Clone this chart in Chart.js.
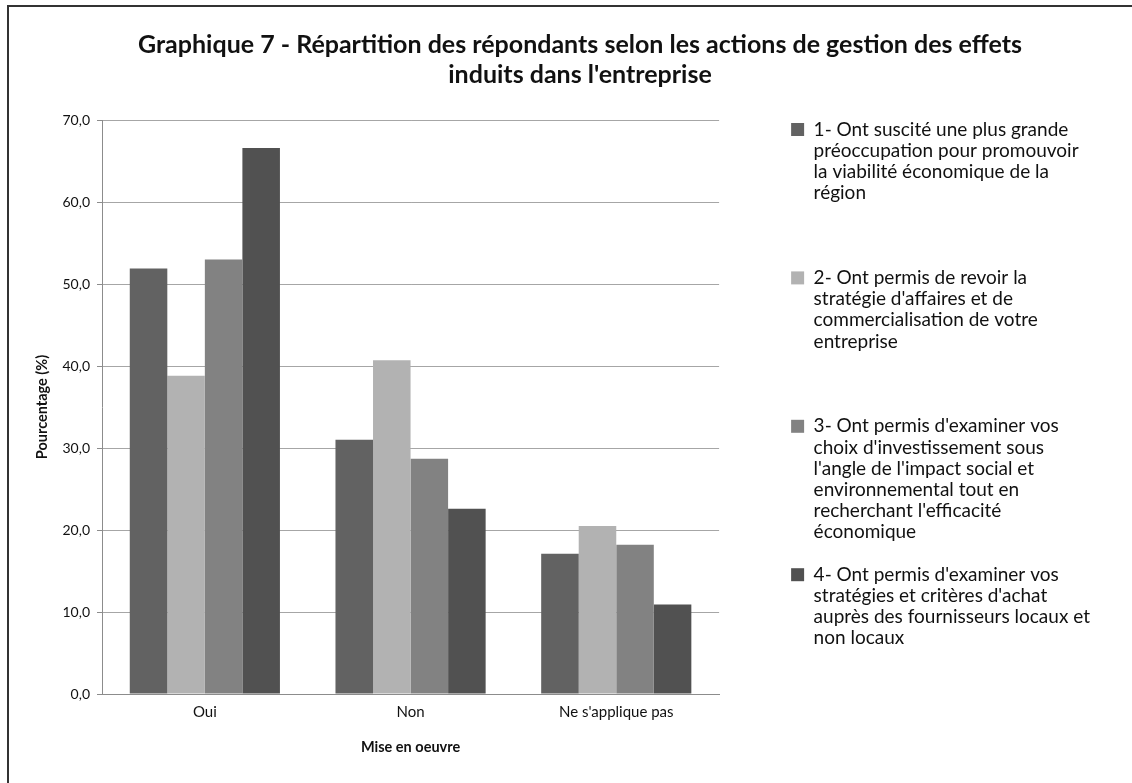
<!DOCTYPE html>
<html>
<head>
<meta charset="utf-8">
<script src="https://cdn.jsdelivr.net/npm/chart.js"></script>
<style>
  body { margin: 0; background: #fff; }
  #ramme { position: absolute; left: 7px; top: 5px; right: 0; bottom: 0; border-left: 2px solid #333; border-top: 2px solid #333; }
  #boks { position: absolute; left: 0; top: 0; width: 1132px; height: 783px; }
</style>
</head>
<body>
<div id="ramme"></div>
<div id="boks"><canvas id="myChart"></canvas></div>
<script>
// kategorier på x-aksen
const kategorier = ['Oui', 'Non', "Ne s'applique pas"];

// verdiene (%) for hver serie
const serie1 = [51.9, 31.0, 17.1];
const serie2 = [38.8, 40.7, 20.5];
const serie3 = [53.0, 28.7, 18.2];
const serie4 = [66.6, 22.6, 10.9];

// tekst i forklaringen, linje for linje
const tekst1 = ['1- Ont suscité une plus grande', 'préoccupation pour promouvoir', 'la viabilité économique de la', 'région'];
const tekst2 = ['2- Ont permis de revoir la', "stratégie d'affaires et de", 'commercialisation de votre', 'entreprise'];
const tekst3 = ["3- Ont permis d'examiner vos", "choix d'investissement sous", "l'angle de l'impact social et", 'environnemental tout en', "recherchant l'efficacité", 'économique'];
const tekst4 = ["4- Ont permis d'examiner vos", "stratégies et critères d'achat", 'auprès des fournisseurs locaux et', 'non locaux'];

const tittel = ['Graphique 7 - Répartition des répondants selon les actions de gestion des effets', "induits dans l'entreprise"];

const farger = ['#626262', '#b2b2b2', '#828282', '#515151'];
const tekster = [tekst1, tekst2, tekst3, tekst4];

const font = 'Lato';
const legendStr = 19;

// måler lengste linje i forklaringen så den havner på riktig sted
const maal = document.createElement('canvas').getContext('2d');
maal.font = legendStr + 'px ' + font;
const lengste = Math.max(...tekster.flat().map(t => maal.measureText(t).width));
const legendStart = 791;
const hoyreKant = Math.max(0, Math.round(1132 - legendStart - (13 + legendStr / 2 + lengste) - 10));
const venstreKant = 60;

const ctx = document.getElementById('myChart');

new Chart(ctx, {
  type: 'bar',
  data: {
    labels: kategorier,
    datasets: [serie1, serie2, serie3, serie4].map((verdier, i) => ({
      label: tekster[i].join(' '),
      data: verdier,
      backgroundColor: farger[i],
      borderWidth: 0,
      categoryPercentage: 0.73,
      barPercentage: 1
    }))
  },
  options: {
    responsive: true,
    maintainAspectRatio: false,
    animation: false,
    layout: { padding: { left: venstreKant, right: hoyreKant, top: 0, bottom: 0 } },
    plugins: {
      title: {
        display: true,
        text: tittel,
        color: '#111',
        font: { family: font, size: 25, weight: 'bold', lineHeight: 1.2 },
        padding: { top: 30, bottom: 30 }
      },
      legend: {
        position: 'right',
        align: 'start',
        fullSize: false,
        maxWidth: 420,
        labels: {
          boxWidth: 13,
          boxHeight: 13,
          padding: 0,
          color: '#111',
          font: { family: font, size: legendStr, lineHeight: 21.2 / legendStr },
          // alle unntatt den siste får 7 linjer så de står med lik avstand
          generateLabels: (chart) => Chart.defaults.plugins.legend.labels.generateLabels(chart).map((item, i) => {
            const linjer = tekster[i].slice();
            if (i < tekster.length - 1) {
              while (linjer.length < 7) linjer.push('');
            }
            item.text = linjer;
            return item;
          })
        }
      },
      tooltip: { enabled: false }
    },
    scales: {
      x: {
        grid: { display: false, drawTicks: false },
        border: { color: '#8c8c8c' },
        ticks: { color: '#111', font: { family: font, size: 15 }, padding: 9 },
        title: {
          display: true,
          text: 'Mise en oeuvre',
          color: '#111',
          font: { family: font, size: 14.5, weight: 'bold' },
          padding: { top: 0, bottom: 27 }
        },
        afterFit: (scale) => { scale.height = 89; }
      },
      y: {
        min: 0,
        max: 70,
        grid: { color: '#a6a6a6', tickLength: 5, tickColor: '#8c8c8c' },
        border: { color: '#8c8c8c' },
        ticks: {
          stepSize: 10,
          padding: 7,
          color: '#111',
          font: { family: font, size: 14 },
          callback: (v) => v.toFixed(1).replace('.', ',')
        },
        title: {
          display: true,
          text: 'Pourcentage (%)',
          color: '#111',
          font: { family: font, size: 14.5, weight: 'bold' },
          padding: { top: 34 - venstreKant, bottom: 0 }
        },
        afterFit: (scale) => { scale.width = 102 - venstreKant; }
      },
      // tom akse som lager luft mellom diagrammet og forklaringen
      luft: {
        type: 'linear',
        position: 'right',
        display: true,
        grid: { display: false },
        border: { display: false },
        ticks: { display: false },
        afterFit: (scale) => { scale.width = 72; }
      }
    }
  }
});
</script>
</body>
</html>
